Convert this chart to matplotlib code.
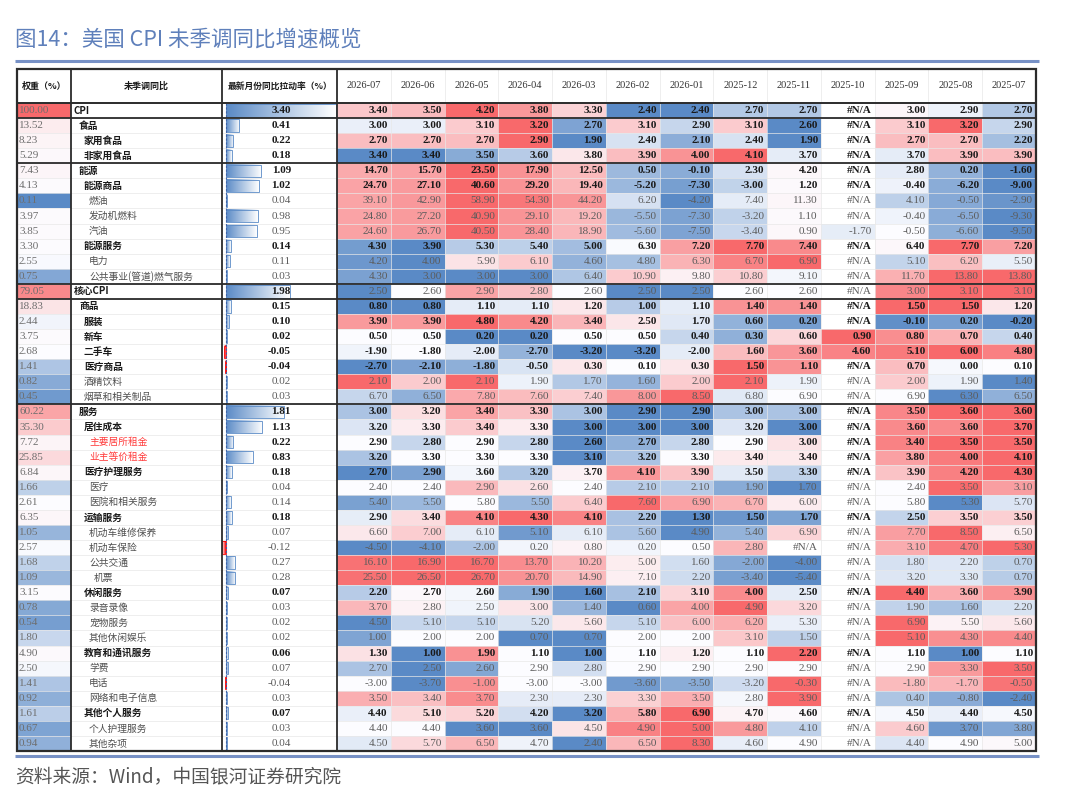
import numpy as np
import matplotlib
matplotlib.use("Agg")
import matplotlib.pyplot as plt
from matplotlib.patches import Rectangle
from matplotlib.colors import LinearSegmentedColormap, to_rgb

NA = np.nan

# ---------------- data ----------------
months = ["2026-07", "2026-06", "2026-05", "2026-04", "2026-03", "2026-02", "2026-01",
          "2025-12", "2025-11", "2025-10", "2025-09", "2025-08", "2025-07"]

names = ["CPI", "食品", "家用食品", "非家用食品", "能源", "能源商品", "燃油", "发动机燃料", "汽油",
         "能源服务", "电力", "公共事业(管道)燃气服务",
         "核心CPI", "商品", "服装", "新车", "二手车", "医疗商品", "酒精饮料", "烟草和相关制品",
         "服务", "居住成本", "主要居所租金", "业主等价租金", "医疗护理服务", "医疗", "医院和相关服务",
         "运输服务", "机动车维修保养", "机动车保险", "公共交通", "机票", "休闲服务", "录音录像",
         "宠物服务", "其他休闲娱乐", "教育和通讯服务", "学费", "电话", "网络和电子信息",
         "其他个人服务", "个人护理服务", "其他杂项"]

levels = [0, 1, 2, 2, 1, 2, 3, 3, 3, 2, 3, 3,
          0, 1, 2, 2, 2, 2, 2, 2,
          1, 2, 3, 3, 2, 3, 3, 2, 3, 3, 3, 4, 2, 3, 3, 3, 2, 3, 3, 3, 2, 3, 3]

# b = bold row, n = normal (grey) row, c = core CPI row, r = red rent rows
styles = ["b", "b", "b", "b", "b", "b", "n", "n", "n", "b", "n", "n",
          "c", "b", "b", "b", "b", "b", "n", "n",
          "b", "b", "r", "r", "b", "n", "n", "b", "n", "n", "n", "n", "b", "n",
          "n", "n", "b", "n", "n", "n", "b", "n", "n"]

weights = [100.00, 13.52, 8.23, 5.29, 7.43, 4.13, 0.11, 3.97, 3.85, 3.30, 2.55, 0.75,
           79.05, 18.83, 2.44, 3.75, 2.68, 1.41, 0.82, 0.45,
           60.22, 35.30, 7.72, 25.85, 6.84, 1.66, 2.61, 6.35, 1.05, 2.57, 1.68, 1.09,
           3.15, 0.78, 0.54, 1.80, 4.90, 2.50, 1.41, 0.92, 1.61, 0.67, 0.94]

contrib = [3.40, 0.41, 0.22, 0.18, 1.09, 1.02, 0.04, 0.98, 0.95, 0.14, 0.11, 0.03,
           1.98, 0.15, 0.10, 0.02, -0.05, -0.04, 0.02, 0.03,
           1.81, 1.13, 0.22, 0.83, 0.18, 0.04, 0.14, 0.18, 0.07, -0.12, 0.27, 0.28,
           0.07, 0.03, 0.02, 0.02, 0.06, 0.07, -0.04, 0.03, 0.07, 0.03, 0.04]

yoy_headline = [
    [3.40, 3.50, 4.20, 3.80, 3.30, 2.40, 2.40, 2.70, 2.70, NA, 3.00, 2.90, 2.70],
    [3.00, 3.00, 3.10, 3.20, 2.70, 3.10, 2.90, 3.10, 2.60, NA, 3.10, 3.20, 2.90],
    [2.70, 2.70, 2.70, 2.90, 1.90, 2.40, 2.10, 2.40, 1.90, NA, 2.70, 2.70, 2.20],
    [3.40, 3.40, 3.50, 3.60, 3.80, 3.90, 4.00, 4.10, 3.70, NA, 3.70, 3.90, 3.90],
    [14.70, 15.70, 23.50, 17.90, 12.50, 0.50, -0.10, 2.30, 4.20, NA, 2.80, 0.20, -1.60],
    [24.70, 27.10, 40.60, 29.20, 19.40, -5.20, -7.30, -3.00, 1.20, NA, -0.40, -6.20, -9.00],
    [39.10, 42.90, 58.90, 54.30, 44.20, 6.20, -4.20, 7.40, 11.30, NA, 4.10, -0.50, -2.90],
    [24.80, 27.20, 40.90, 29.10, 19.20, -5.50, -7.30, -3.20, 1.10, NA, -0.40, -6.50, -9.30],
    [24.60, 26.70, 40.50, 28.40, 18.90, -5.60, -7.50, -3.40, 0.90, -1.70, -0.50, -6.60, -9.50],
    [4.30, 3.90, 5.30, 5.40, 5.00, 6.30, 7.20, 7.70, 7.40, NA, 6.40, 7.70, 7.20],
    [4.20, 4.00, 5.90, 6.10, 4.60, 4.80, 6.30, 6.70, 6.90, NA, 5.10, 6.20, 5.50],
    [4.30, 3.00, 3.00, 3.00, 6.40, 10.90, 9.80, 10.80, 9.10, NA, 11.70, 13.80, 13.80],
]

yoy_core_goods = [
    [2.50, 2.60, 2.90, 2.80, 2.60, 2.50, 2.50, 2.60, 2.60, NA, 3.00, 3.10, 3.10],
    [0.80, 0.80, 1.10, 1.10, 1.20, 1.00, 1.10, 1.40, 1.40, NA, 1.50, 1.50, 1.20],
    [3.90, 3.90, 4.80, 4.20, 3.40, 2.50, 1.70, 0.60, 0.20, NA, -0.10, 0.20, -0.20],
    [0.50, 0.50, 0.20, 0.20, 0.50, 0.50, 0.40, 0.30, 0.60, 0.90, 0.80, 0.70, 0.40],
    [-1.90, -1.80, -2.00, -2.70, -3.20, -3.20, -2.00, 1.60, 3.60, 4.60, 5.10, 6.00, 4.80],
    [-2.70, -2.10, -1.80, -0.50, 0.30, 0.10, 0.30, 1.50, 1.10, NA, 0.70, 0.00, 0.10],
    [2.10, 2.00, 2.10, 1.90, 1.70, 1.60, 2.00, 2.10, 1.90, NA, 2.00, 1.90, 1.40],
    [6.70, 6.50, 7.80, 7.60, 7.40, 8.00, 8.50, 6.80, 6.90, NA, 6.90, 6.30, 6.50],
]

yoy_services = [
    [3.00, 3.20, 3.40, 3.30, 3.00, 2.90, 2.90, 3.00, 3.00, NA, 3.50, 3.60, 3.60],
    [3.20, 3.30, 3.40, 3.30, 3.00, 3.00, 3.00, 3.20, 3.00, NA, 3.60, 3.60, 3.70],
    [2.90, 2.80, 2.90, 2.80, 2.60, 2.70, 2.80, 2.90, 3.00, NA, 3.40, 3.50, 3.50],
    [3.20, 3.30, 3.30, 3.30, 3.10, 3.20, 3.30, 3.40, 3.40, NA, 3.80, 4.00, 4.10],
    [2.70, 2.90, 3.60, 3.20, 3.70, 4.10, 3.90, 3.50, 3.30, NA, 3.90, 4.20, 4.30],
    [2.40, 2.40, 2.90, 2.60, 2.40, 2.10, 2.10, 1.90, 1.70, NA, 2.40, 3.50, 3.10],
    [5.40, 5.50, 5.80, 5.50, 6.40, 7.60, 6.90, 6.70, 6.00, NA, 5.80, 5.30, 5.70],
    [2.90, 3.40, 4.10, 4.30, 4.10, 2.20, 1.30, 1.50, 1.70, NA, 2.50, 3.50, 3.50],
    [6.60, 7.00, 6.10, 5.10, 6.10, 5.60, 4.90, 5.40, 6.90, NA, 7.70, 8.50, 6.50],
    [-4.50, -4.10, -2.00, 0.20, 0.80, 0.20, 0.50, 2.80, NA, NA, 3.10, 4.70, 5.30],
    [16.10, 16.90, 16.70, 13.70, 10.20, 5.00, 1.60, -2.00, -4.00, NA, 1.80, 2.20, 0.70],
    [25.50, 26.50, 26.70, 20.70, 14.90, 7.10, 2.20, -3.40, -5.40, NA, 3.20, 3.30, 0.70],
    [2.20, 2.70, 2.60, 1.90, 1.60, 2.10, 3.10, 4.00, 2.50, NA, 4.40, 3.60, 3.90],
    [3.70, 2.80, 2.50, 3.00, 1.40, 0.60, 4.00, 4.90, 3.20, NA, 1.90, 1.60, 2.20],
    [4.50, 5.10, 5.10, 5.20, 5.60, 5.10, 6.00, 6.20, 5.30, NA, 6.90, 5.50, 5.60],
    [1.00, 2.00, 2.00, 0.70, 0.70, 2.00, 2.00, 3.10, 1.50, NA, 5.10, 4.30, 4.40],
    [1.30, 1.00, 1.90, 1.10, 1.00, 1.10, 1.20, 1.10, 2.20, NA, 1.10, 1.00, 1.10],
    [2.70, 2.50, 2.60, 2.90, 2.80, 2.90, 2.90, 2.90, 2.90, NA, 2.90, 3.30, 3.50],
    [-3.00, -3.70, -1.00, -3.00, -3.00, -3.60, -3.50, -3.20, -0.30, NA, -1.80, -1.70, -0.50],
    [3.50, 3.40, 3.70, 2.30, 2.30, 3.30, 3.50, 2.80, 3.90, NA, 0.40, -0.80, -2.40],
    [4.40, 5.10, 5.20, 4.20, 3.20, 5.80, 6.90, 4.70, 4.60, NA, 4.50, 4.40, 4.50],
    [4.40, 4.40, 3.60, 3.60, 4.50, 4.90, 5.00, 4.80, 4.10, NA, 4.60, 3.70, 3.80],
    [4.50, 5.70, 6.50, 4.70, 2.40, 6.50, 8.30, 4.60, 4.90, NA, 4.40, 4.90, 5.00],
]

group_ends = [0, 3, 11, 12, 19]   # rows followed by a heavy rule

title = "图14：美国 CPI 未季调同比增速概览"
source = "资料来源：Wind，中国银河证券研究院"
headers = ["权重（%）", "未季调同比", "最新月份同比拉动率（%）"]

# ---------------- helpers ----------------
yoy = np.array(yoy_headline + yoy_core_goods + yoy_services, dtype=float)

RED = np.array(to_rgb("#F8696B"))
WHITE = np.array(to_rgb("#FCFCFF"))
BLUE = np.array(to_rgb("#5A8AC6"))


def three_color(vals):
    v = np.asarray(vals, dtype=float)
    lo, hi = np.nanmin(v), np.nanmax(v)
    mid = np.nanpercentile(v, 50)
    out = []
    for x in v:
        if np.isnan(x):
            out.append((1, 1, 1))
        elif x >= mid:
            t = 0 if hi == mid else (x - mid) / (hi - mid)
            out.append(tuple(WHITE + (RED - WHITE) * t))
        else:
            t = (mid - x) / (mid - lo)
            out.append(tuple(WHITE + (BLUE - WHITE) * t))
    return out


NUM = ["Liberation Serif", "Noto Sans CJK SC"]
CJK = ["Noto Sans CJK SC", "DejaVu Sans"]
DARK = "#1a1a1a"
GREY = "#5c5c5c"
WGREY = "#6e6e6e"

fig = plt.figure(figsize=(10.8, 8.01), dpi=100)
ax = fig.add_axes([0, 0, 1, 1])
ax.set_axis_off()

# layout
X_W, X_N, X_C, X_M, X_R = 17, 71, 222, 337, 1036
Y_T, Y_H, Y_B = 69, 103, 751
n = len(names)
rh = (Y_B - Y_H) / n
mw = (X_R - X_M) / len(months)

# title + rules
ax.text(15, 40, title, fontsize=15.5, color="#5f80bb", family=CJK, va="center", ha="left")
ax.plot([15, 1039], [61, 61], color="#7791c6", lw=2.2, solid_capstyle="butt")
ax.plot([15, 1039], [756, 756], color="#7791c6", lw=2.2, solid_capstyle="butt")
ax.text(15, 777, source, fontsize=13.5, color="#555555", family=CJK, va="center",
        ha="left", style="italic")

# headers
hy = (Y_T + Y_H) / 2
ax.text((X_W + X_N) / 2, hy, headers[0], fontsize=6.5, fontweight="bold", family=CJK,
        ha="center", va="center", color=DARK)
ax.text((X_N + X_C) / 2, hy, headers[1], fontsize=6.5, fontweight="bold", family=CJK,
        ha="center", va="center", color=DARK)
ax.text((X_C + X_M) / 2, hy, headers[2], fontsize=6.3, fontweight="bold", family=CJK,
        ha="center", va="center", color=DARK)
for j, m in enumerate(months):
    ax.text(X_M + (j + 0.5) * mw, hy, m, fontsize=7.5, family=NUM, ha="center",
            va="center", color="#333333")

# weight column colours
wcol = three_color(weights)
cmap_pos = LinearSegmentedColormap.from_list("pos", ["#5A8AC6", "#FFFFFF"])
cmap_neg = LinearSegmentedColormap.from_list("neg", ["#FFFFFF", "#FF0000"])
grad = np.linspace(0, 1, 256).reshape(1, -1)
axis_x = X_C + 4
bar_scale = (X_M - 1.5 - axis_x) / max(contrib)

for i in range(n):
    y0 = Y_H + i * rh
    yc = y0 + rh / 2
    st = styles[i]
    # weight
    ax.add_patch(Rectangle((X_W, y0), X_N - X_W, rh, facecolor=wcol[i], edgecolor="none", zorder=1))
    ax.text(X_W + 2, yc, f"{weights[i]:.2f}", fontsize=8, family=NUM, ha="left", va="center",
            color=WGREY, zorder=5)
    # name
    lx = 74 + 5 * levels[i]
    if st == "r":
        ax.text(lx, yc, names[i], fontsize=7, family=CJK, ha="left", va="center",
                color="#ff3b3b", style="italic", zorder=5)
    elif st == "n":
        ax.text(lx, yc, names[i], fontsize=7, family=CJK, ha="left", va="center",
                color="#505050", zorder=5)
    else:
        ax.text(lx, yc, names[i], fontsize=7, family=CJK, ha="left", va="center",
                color=DARK, fontweight="bold", zorder=5)
    # data bar
    c = contrib[i]
    by0, by1 = y0 + 1.4, y0 + rh - 1.4
    if c >= 0:
        x1 = axis_x + c * bar_scale
        ax.imshow(grad, extent=[axis_x, x1, by1, by0], cmap=cmap_pos, aspect="auto",
                  interpolation="bilinear", zorder=2)
        ax.add_patch(Rectangle((axis_x, by0), x1 - axis_x, by1 - by0, facecolor="none",
                               edgecolor="#5A8AC6", lw=0.6, zorder=3))
    else:
        x1 = axis_x + c * bar_scale
        ax.imshow(grad, extent=[x1, axis_x, by1, by0], cmap=cmap_neg, aspect="auto",
                  interpolation="bilinear", zorder=2)
        ax.add_patch(Rectangle((x1, by0), axis_x - x1, by1 - by0, facecolor="none",
                               edgecolor="#FF0000", lw=0.6, zorder=3))
    cbold = st != "n"
    ax.text(291, yc, f"{c:.2f}", fontsize=8, family=NUM, ha="right", va="center",
            color=DARK if cbold else GREY, fontweight="bold" if cbold else "normal", zorder=5)
    # month cells
    cols = three_color(yoy[i])
    vbold = st in ("b", "r")
    for j in range(len(months)):
        x0 = X_M + j * mw
        ax.add_patch(Rectangle((x0, y0), mw, rh, facecolor=cols[j], edgecolor="none", zorder=1))
        v = yoy[i, j]
        s = "#N/A" if np.isnan(v) else f"{v:.2f}"
        ax.text(x0 + mw - 3, yc, s, fontsize=8, family=NUM, ha="right", va="center",
                color=DARK if vbold else GREY, fontweight="bold" if vbold else "normal",
                zorder=5)

# light grid
for i in range(1, n):
    y = Y_H + i * rh
    ax.plot([X_W, X_R], [y, y], color="#e8e8e8", lw=0.5, zorder=4)
for j in range(1, len(months)):
    x = X_M + j * mw
    ax.plot([x, x], [Y_T, Y_B], color="#e8e8e8", lw=0.5, zorder=4)

# dashed bar axis
ax.plot([axis_x, axis_x], [Y_H, Y_B], color="#3f63a8", lw=0.8, ls=(0, (2, 1.5)), zorder=4)

# heavy rules
HEAVY = "#2b2b2b"
for g in group_ends:
    y = Y_H + (g + 1) * rh
    ax.plot([X_W, X_R], [y, y], color=HEAVY, lw=1.3, zorder=6)
ax.plot([X_W, X_R], [Y_H, Y_H], color=HEAVY, lw=1.4, zorder=6)
for x in (X_N, X_C, X_M):
    ax.plot([x, x], [Y_T, Y_B], color=HEAVY, lw=1.3, zorder=6)
ax.add_patch(Rectangle((X_W, Y_T), X_R - X_W, Y_B - Y_T, facecolor="none",
                       edgecolor=HEAVY, lw=1.6, zorder=7))

ax.set_xlim(0, 1080)
ax.set_ylim(801, 0)
fig.savefig("out.png", dpi=100)
